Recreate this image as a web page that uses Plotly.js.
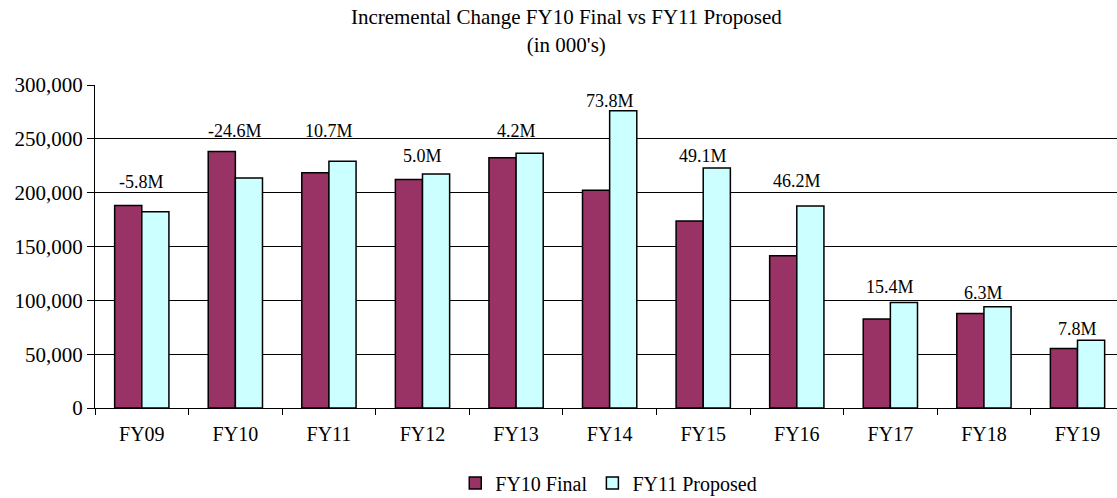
<!DOCTYPE html>
<html>
<head>
<meta charset="utf-8">
<script src="https://cdn.plot.ly/plotly-3.0.1.min.js"></script>
<style>
html,body{margin:0;padding:0;background:#fff;}
#chart{width:1117px;height:498px;}
</style>
</head>
<body>
<div id="chart"></div>
<script>
var categories = ["FY09","FY10","FY11","FY12","FY13","FY14","FY15","FY16","FY17","FY18","FY19"];
var fy10Final = [188000, 238200, 218400, 212300, 232500, 202200, 173800, 141400, 82700, 87700, 55200];
var fy11Proposed = [182200, 213600, 229100, 217300, 236700, 276000, 222900, 187600, 98100, 94000, 63000];
var changeLabels = ["-5.8M","-24.6M","10.7M","5.0M","4.2M","73.8M","49.1M","46.2M","15.4M","6.3M","7.8M"];
var labelY = [209800, 257700, 257000, 233600, 257000, 285500, 234500, 210500, 112000, 107000, 73400];
var yTicks = [0, 50000, 100000, 150000, 200000, 250000, 300000];

var FONT = "Liberation Serif";

var traces = [
  {type:"bar", name:"FY10 Final", x:categories, y:fy10Final,
   marker:{color:"#993366", line:{color:"#000", width:1.5}}},
  {type:"bar", name:"FY11 Proposed", x:categories, y:fy11Proposed,
   marker:{color:"#CCFFFF", line:{color:"#000", width:1.5}}}
];

var annotations = categories.map(function(c, i){
  return {x:c, y:labelY[i], xref:"x", yref:"y", text:changeLabels[i], showarrow:false,
          font:{family:FONT, size:18, color:"#000"}};
});

var layout = {
  width:1117, height:498,
  font:{family:FONT, color:"#000"},
  paper_bgcolor:"#fff", plot_bgcolor:"#fff",
  margin:{l:95, r:0, t:85, b:90},
  title:{text:"Incremental Change FY10 Final vs FY11 Proposed<br>(in 000's)",
         font:{family:FONT, size:21, color:"#000"}, x:0.507, xref:"container", y:0.951, yanchor:"top"},
  barmode:"group", bargap:0.42, bargroupgap:0,
  xaxis:{type:"category", range:[-0.5, 10.422], tickson:"boundaries", ticks:"outside", ticklen:6,
         tickcolor:"#000", showline:true, linecolor:"#000", linewidth:1, showgrid:false,
         ticklabelstandoff:8,
         tickfont:{family:FONT, size:20, color:"#000"}, fixedrange:true},
  yaxis:{range:[0,300000], tickvals:yTicks, tickformat:",", ticks:"outside", ticklen:7, tickcolor:"#000",
         showline:true, linecolor:"#000", linewidth:1, showgrid:true, gridcolor:"#000", gridwidth:1,
         zeroline:false, tickfont:{family:FONT, size:21, color:"#000"}, fixedrange:true},
  showlegend:true,
  legend:{orientation:"h", x:0.545, xanchor:"center", xref:"container", y:0.03, yref:"container", yanchor:"middle",
          font:{family:FONT, size:20, color:"#000"}, itemwidth:30, tracegroupgap:0},
  annotations:annotations
};

Plotly.newPlot("chart", traces, layout, {displayModeBar:false, staticPlot:true});
</script>
</body>
</html>
